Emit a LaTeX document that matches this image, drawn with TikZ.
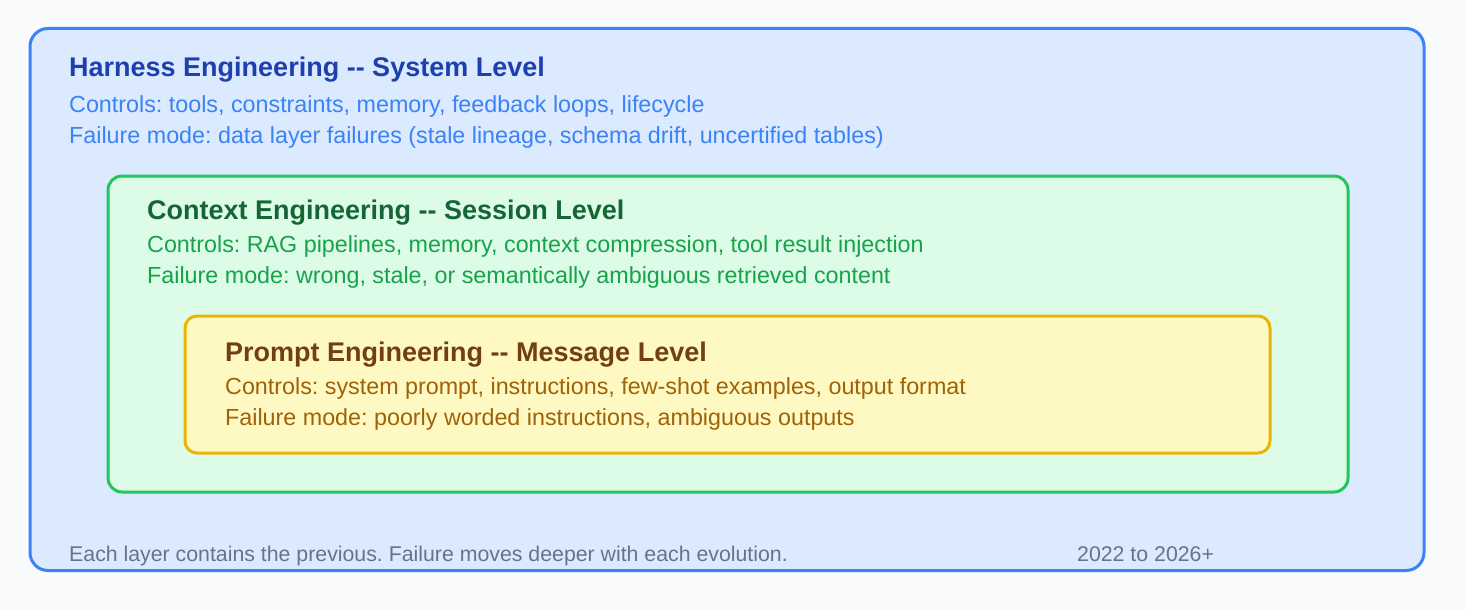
\documentclass[tikz,border=0pt]{standalone}
\usepackage{fontspec}
\setmainfont{Liberation Sans}
\frenchspacing
\definecolor{pagebg}{HTML}{F8FAFC}
\definecolor{sysfill}{HTML}{DBEAFE}
\definecolor{sysline}{HTML}{3B82F6}
\definecolor{systext}{HTML}{1E40AF}
\definecolor{sesfill}{HTML}{DCFCE7}
\definecolor{sesline}{HTML}{22C55E}
\definecolor{sestitle}{HTML}{166534}
\definecolor{sestext}{HTML}{16A34A}
\definecolor{msgfill}{HTML}{FEF9C3}
\definecolor{msgline}{HTML}{EAB308}
\definecolor{msgtitle}{HTML}{713F12}
\definecolor{msgtext}{HTML}{A16207}
\definecolor{notetext}{HTML}{64748B}
\begin{document}
\begin{tikzpicture}[x=1pt, y=-1pt,
  layer/.style = {draw, line width=3pt, anchor=north west, inner sep=0pt, outer sep=0pt},
  title/.style = {anchor=base west, inner sep=0pt, font=\fontsize{27}{32}\selectfont\bfseries},
  body/.style = {anchor=base west, inner sep=0pt, font=\fontsize{23.3}{28}\selectfont},
  note/.style = {anchor=base west, inner sep=0pt, text=notetext, font=\fontsize{21.3}{25}\selectfont}]
\fill[pagebg] (0,0) rectangle (1466,610);
\useasboundingbox (0,0) rectangle (1466,610);
% the three layers
\node[layer, draw=sysline, fill=sysfill, rounded corners=18pt, minimum width=1394pt, minimum height=542pt] (system) at (30,28.5) {};
\node[layer, draw=sesline, fill=sesfill, rounded corners=14pt, minimum width=1240pt, minimum height=316pt] (session) at (108,176) {};
\node[layer, draw=msgline, fill=msgfill, rounded corners=12pt, minimum width=1085pt, minimum height=137pt] (message) at (185,316) {};
% system level
\node[title, text=systext] (systitle) at (69,77) {Harness Engineering -{}- System Level};
\node[body, text=sysline] (sysctl) at (69,112) {Controls: tools, constraints, memory, feedback loops, lifecycle};
\node[body, text=sysline] (sysfail) at (69,143) {Failure mode: data layer failures (stale lineage, schema drift, uncertified tables)};
% session level
\node[title, text=sestitle] (sestitle) at (147,219) {Context Engineering -{}- Session Level};
\node[body, text=sestext] (sesctl) at (147,252.5) {Controls: RAG pipelines, memory, context compression, tool result injection};
\node[body, text=sestext] (sesfail) at (147,283.5) {Failure mode: wrong, stale, or semantically ambiguous retrieved content};
% message level
\node[title, text=msgtitle] (msgtitle) at (225,361) {Prompt Engineering -{}- Message Level};
\node[body, text=msgtext] (msgctl) at (225,394) {Controls: system prompt, instructions, few-shot examples, output format};
\node[body, text=msgtext] (msgfail) at (225,425) {Failure mode: poorly worded instructions, ambiguous outputs};
% footer
\node[note] (footnote) at (69,561) {Each layer contains the previous. Failure moves deeper with each evolution.};
\node[note] (years) at (1077,561) {2022 to 2026+};
\end{tikzpicture}
\end{document}
